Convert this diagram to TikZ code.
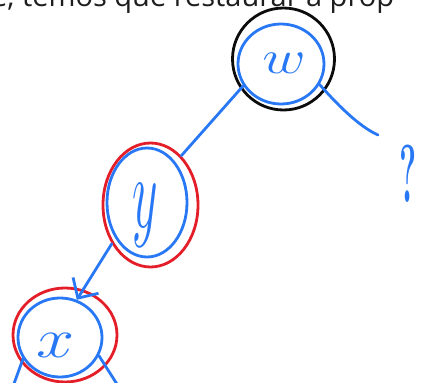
\documentclass[tikz,border=0pt]{standalone}
\usepackage{fontspec}
\newfontfamily\captionfont{Open Sans}
\usetikzlibrary{shapes.geometric,arrows.meta}
\definecolor{inkblue}{RGB}{40,120,245}
\definecolor{inkred}{RGB}{228,30,40}
\definecolor{inkblack}{RGB}{12,12,12}
\definecolor{captiongray}{RGB}{30,30,30}
\begin{document}
\begin{tikzpicture}[x=1pt,y=-1pt,
  ink/.style={line width=2.8pt, line cap=round, line join=round},
  ring/.style={ellipse, ink, inner sep=0pt},
  bluering/.style={ring, draw=inkblue},
  redring/.style={ring, draw=inkred},
  blackring/.style={ring, draw=inkblack},
  edge/.style={ink, draw=inkblue},
  letter/.style={text=inkblue, inner sep=0pt, font=\Huge}]
\useasboundingbox (0,0) rectangle (421,383);
\clip (0,0) rectangle (421,383);

% partial caption line running off the top edge
\node[anchor=base west, inner sep=0pt, text=captiongray,
      font=\captionfont\fontsize{29}{29}\selectfont] (caption) at (-9,6)
      {e, temos que restaurar a prop};

% node w with its black highlight ring
\node[bluering, minimum width=86pt, minimum height=80pt] (w) at (281,64) {};
\node[blackring, minimum width=102pt, minimum height=102pt] (wring) at (283.5,59) {};
\node[letter] (wl) at (284,63) {\scalebox{2.4}[1.9]{$w$}};

% node y with its red ring
\node[bluering, minimum width=80pt, minimum height=109pt] (y) at (147,202.5) {};
\node[redring, minimum width=95pt, minimum height=124pt] (yring) at (150.5,205) {};
\node[letter] (yl) at (145,215) {\scalebox{2.0}[4.1]{$y$}};

% node x with its red ring
\node[bluering, minimum width=84pt, minimum height=79pt] (x) at (60,337.5) {};
\node[redring, minimum width=104pt, minimum height=94pt] (xring) at (65,335) {};
\node[letter] (xl) at (55.5,345) {\scalebox{2.75}[2.25]{$x$}};

% unknown sibling
\node[letter] (q) at (408,174) {\scalebox{1.3}[3.3]{\bfseries ?}};

% free ends of the branches
\coordinate (qtail) at (378,135);
\coordinate (xleft) at (11,392);
\coordinate (xright) at (122,392);

% branches
\draw[edge] (w.210) -- (yring.58);
\draw[edge] (w.-28) .. controls (336,103) and (358,126) .. (qtail);
\draw[edge, -{Straight Barb[length=15pt,width=30pt]}] (yring.225) -- (x.66);
\draw[edge] (x.210) -- (xleft);
\draw[edge] (x.-25) -- (xright);
\end{tikzpicture}
\end{document}
